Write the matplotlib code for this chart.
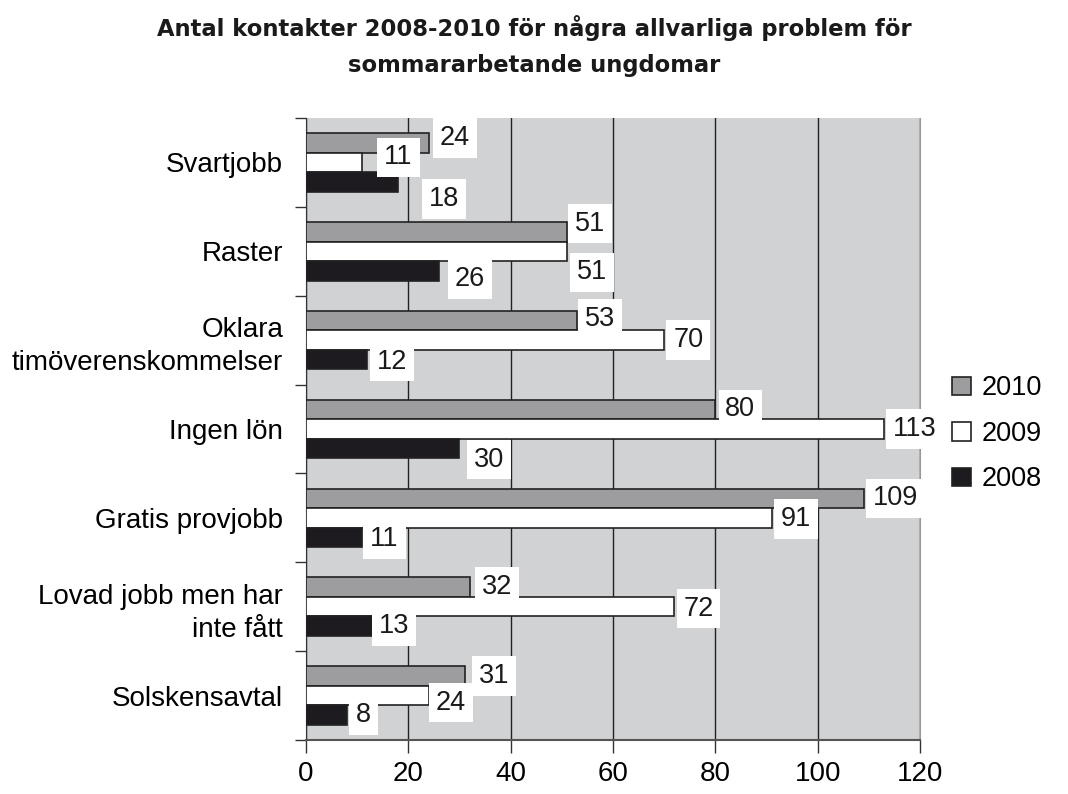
import numpy as np
import matplotlib
matplotlib.use('Agg')
import matplotlib.pyplot as plt

### DATA ###
categories = ['Svartjobb', 'Raster', 'Oklara\ntimöverenskommelser', 'Ingen lön',
              'Gratis provjobb', 'Lovad jobb men har\ninte fått', 'Solskensavtal']
years = ['2010', '2009', '2008']
v2010 = [24, 51, 53, 80, 109, 32, 31]
v2009 = [11, 51, 70, 113, 91, 72, 24]
v2008 = [18, 26, 12, 30, 11, 13, 8]
xticks = [0, 20, 40, 60, 80, 100, 120]

### STYLE ###
plt.rcParams['font.family'] = ['Liberation Sans', 'DejaVu Sans']
colors = ['#9d9d9f', '#ffffff', '#1d1b1f']
# extra label shifts in pixels (right, down) where labels were moved to avoid overlap
shift2010 = [(2, -5), (-1, -8), (-1, -2), (1, 0), (0, 0), (3, 0), (5, 0)]
shift2009 = [(13, -5), (1, 21), (0, 0), (0, 0), (0, 1), (0, 2), (-2, 7)]
shift2008 = [(22, 17), (7, 8), (0, 2), (5, 11), (-1, 2), (-3, 0), (0, 0)]

fig = plt.figure(figsize=(10.68, 7.94), dpi=100)
ax = fig.add_axes([0.2865, 0.068, 0.5749, 0.7834])
ax.set_facecolor('#d1d2d4')

y = np.arange(len(categories))
h = 0.22
series = [v2010, v2009, v2008]
shifts = [shift2010, shift2009, shift2008]
for i, (vals, yr) in enumerate(zip(series, years)):
    pos = y + (i - 1) * h
    ax.barh(pos, vals, height=h, color=colors[i], edgecolor='#222222',
            linewidth=1.2, label=yr, zorder=3)
    for v, p, (dx, dy) in zip(vals, pos, shifts[i]):
        ax.annotate(str(v), xy=(v, p), xytext=(9 + dx, -dy), textcoords='offset pixels',
                    ha='left', va='center', fontsize=19.5, color='#1a1a1a', zorder=5,
                    bbox=dict(boxstyle='square,pad=0.25', fc='white', ec='none'))

ax.set_xlim(0, 120)
ax.set_ylim(len(categories) - 0.5, -0.5)
ax.set_xticks(xticks)
ax.tick_params(axis='x', labelsize=20, pad=6, length=9, width=1, color='#333333')
ax.xaxis.grid(True, color='#222222', linewidth=1, zorder=1)
ax.set_axisbelow(True)

# category ticks sit between groups, labels at the centres
ax.set_yticks(np.arange(-0.5, len(categories), 1))
ax.set_yticklabels([])
ax.set_yticks(y, minor=True)
ax.set_yticklabels(categories, minor=True, fontsize=20, linespacing=1.35)
ax.tick_params(axis='y', which='major', length=8, width=1, color='#333333')
ax.tick_params(axis='y', which='minor', length=0, pad=16.5)

ax.spines['top'].set_visible(False)
ax.spines['right'].set_color('#999999')
ax.spines['right'].set_zorder(2)
ax.spines['left'].set_color('#333333')
ax.spines['bottom'].set_color('#555555')
ax.spines['bottom'].set_linewidth(1.5)

fig.text(0.5, 0.942, 'Antal kontakter 2008-2010 för några allvarliga problem för\nsommararbetande ungdomar',
         ha='center', va='center', fontsize=16.3, fontweight='bold', linespacing=1.7,
         family='DejaVu Sans', color='#1a1a1a')

ax.legend(loc='center left', bbox_to_anchor=(1.012, 0.492), frameon=False, fontsize=19.5,
          handlelength=0.7, handleheight=0.7, handletextpad=0.4, labelspacing=0.72)

fig.savefig('out.png', dpi=100)
